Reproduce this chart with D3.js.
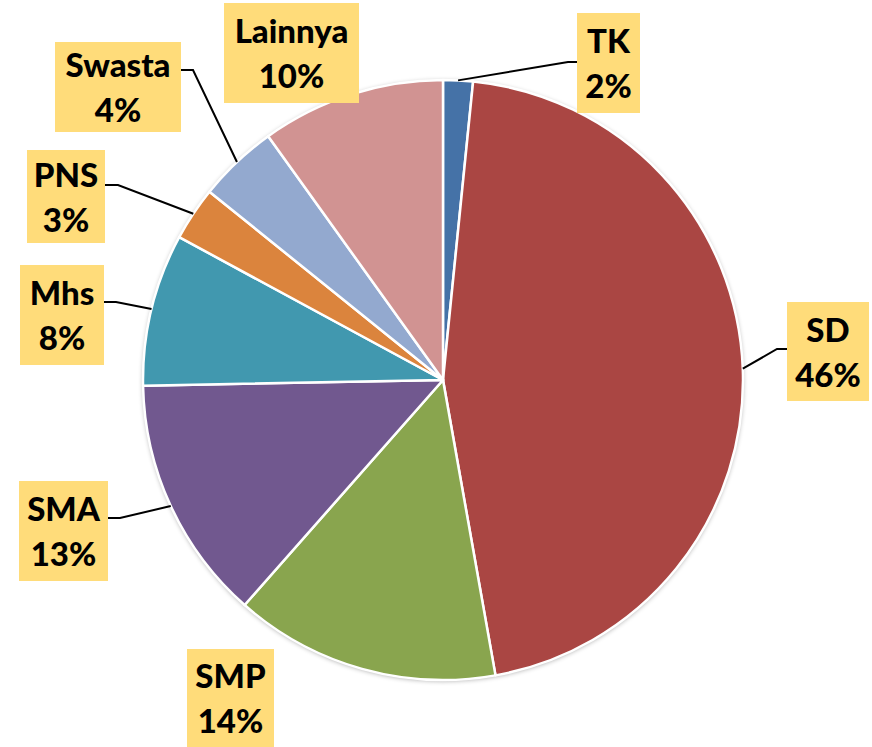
<!DOCTYPE html>
<html>
<head>
<meta charset="utf-8">
<script src="https://cdn.jsdelivr.net/npm/d3@7"></script>
<style>
  html, body { margin: 0; padding: 0; background: #ffffff; }
  svg { display: block; }
</style>
</head>
<body>
<div id="chart"></div>
<script>
// categories and values (percent), clockwise from 12 o'clock
const categories = ["TK", "SD", "SMP", "SMA", "Mhs", "PNS", "Swasta", "Lainnya"];
const values = [1.6, 45.6, 14.3, 13.2, 8.2, 2.9, 4.3, 9.9];
const colors = ["#4572A7", "#AA4643", "#89A54E", "#71588F", "#4198AF", "#DB843D", "#93A9CF", "#D19392"];

// label box layout: x, y (top-left), w, h, and whether a leader line is drawn
const labelBoxes = [
    { x: 577, y: 13,  w: 63,  h: 100, leader: true,  elbow: [568, 62] },
    { x: 787, y: 302, w: 82,  h: 99,  leader: true,  elbow: [777, 349] },
    { x: 187, y: 649, w: 87,  h: 98,  leader: false },
    { x: 19,  y: 481, w: 89,  h: 100, leader: true,  elbow: [120, 518] },
    { x: 20,  y: 265, w: 84,  h: 100, leader: true,  elbow: [116, 302] },
    { x: 27,  y: 150, w: 78,  h: 93,  leader: true,  elbow: [118, 185] },
    { x: 55,  y: 42,  w: 126, h: 90,  leader: true,  elbow: [193, 70] },
    { x: 224, y: 3,   w: 135, h: 100, leader: false }
];

const width = 872, height = 747;
const cx = 443, cy = 380, radius = 300;

const svg = d3.select("#chart")
    .append("svg")
    .attr("width", width)
    .attr("height", height);

// soft shadow around the pie
const defs = svg.append("defs");
const filter = defs.append("filter")
    .attr("id", "shadow")
    .attr("x", "-10%").attr("y", "-10%")
    .attr("width", "120%").attr("height", "120%");
filter.append("feGaussianBlur").attr("in", "SourceAlpha").attr("stdDeviation", 2.5);
filter.append("feOffset").attr("dx", 0).attr("dy", 1).attr("result", "blur");
filter.append("feComponentTransfer").append("feFuncA").attr("type", "linear").attr("slope", 0.35);
const merge = filter.append("feMerge");
merge.append("feMergeNode");
merge.append("feMergeNode").attr("in", "SourceGraphic");

const data = categories.map((c, i) => ({ name: c, value: values[i], color: colors[i], box: labelBoxes[i] }));

const pie = d3.pie()
    .sort(null)
    .value(d => d.value);

const arc = d3.arc()
    .innerRadius(0)
    .outerRadius(radius);

const arcs = pie(data);

const g = svg.append("g")
    .attr("transform", `translate(${cx},${cy})`);

g.append("circle")
    .attr("r", radius)
    .attr("fill", "#ffffff")
    .attr("filter", "url(#shadow)");

g.selectAll(".slice")
    .data(arcs)
    .enter()
    .append("path")
    .attr("class", "slice")
    .attr("d", arc)
    .attr("fill", d => d.data.color)
    .attr("stroke", "#ffffff")
    .attr("stroke-width", 2.5)
    .attr("stroke-linejoin", "round");

// leader lines
arcs.forEach(d => {
    const b = d.data.box;
    if (!b.leader) return;
    const mid = (d.startAngle + d.endAngle) / 2;
    const sx = cx + radius * Math.sin(mid);
    const sy = cy - radius * Math.cos(mid);
    const ex = b.elbow[0] < b.x ? b.x : b.x + b.w;
    svg.append("polyline")
        .attr("points", `${sx},${sy} ${b.elbow[0]},${b.elbow[1]} ${ex},${b.elbow[1]}`)
        .attr("fill", "none")
        .attr("stroke", "#000000")
        .attr("stroke-width", 2);
});

// label boxes
const labels = svg.selectAll(".label")
    .data(arcs)
    .enter()
    .append("g")
    .attr("class", "label")
    .attr("transform", d => `translate(${d.data.box.x},${d.data.box.y})`);

labels.append("rect")
    .attr("width", d => d.data.box.w)
    .attr("height", d => d.data.box.h)
    .attr("fill", "#FFDC7A");

labels.append("text")
    .attr("x", d => d.data.box.w / 2)
    .attr("y", d => d.data.box.h / 2 - 10)
    .attr("text-anchor", "middle")
    .style("font-family", "Lato, 'Open Sans', sans-serif")
    .style("font-weight", "900")
    .style("font-size", "33px")
    .attr("fill", "#000000")
    .text(d => d.data.name);

labels.append("text")
    .attr("x", d => d.data.box.w / 2)
    .attr("y", d => d.data.box.h / 2 + 35)
    .attr("text-anchor", "middle")
    .style("font-family", "Lato, 'Open Sans', sans-serif")
    .style("font-weight", "900")
    .style("font-size", "33px")
    .attr("fill", "#000000")
    .text(d => Math.round(d.data.value) + "%");
</script>
</body>
</html>
